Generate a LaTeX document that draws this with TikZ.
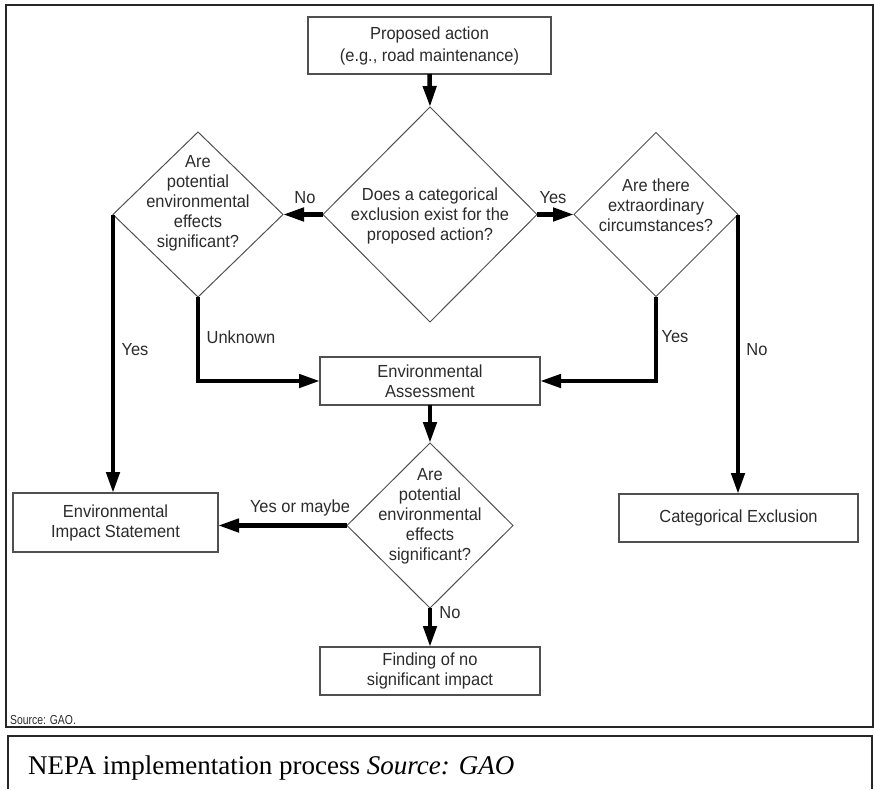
\documentclass[tikz,border=0pt]{standalone}
\usepackage{fontspec}
\setmainfont{Liberation Sans}[FakeStretch=0.94]
\newfontfamily\capfont{Liberation Serif}
\newfontfamily\narrowfont[FakeStretch=0.8]{Liberation Sans}
\usetikzlibrary{shapes.geometric,arrows.meta}
\definecolor{txtgray}{HTML}{2B2B2B}
\definecolor{boxgray}{HTML}{505050}
\begin{document}
\begin{tikzpicture}[x=1pt,y=-1pt,
  box/.style={draw=boxgray,line width=1.2pt,rectangle,inner sep=0pt,outer sep=0pt,
    font=\fontsize{17.5}{20}\selectfont,text=txtgray,align=center},
  dia/.style={draw=boxgray,line width=1pt,diamond,inner sep=0pt,outer sep=0pt},
  txt/.style={font=\fontsize{17.5}{20}\selectfont,text=txtgray,align=center,inner sep=0pt},
  lbl/.style={font=\fontsize{17.5}{20}\selectfont,text=txtgray,inner sep=0pt},
  flow/.style={line width=4.5pt,-{Triangle[length=21pt,width=13pt]}},
]
\useasboundingbox (0,0) rectangle (874,789);
% frames
\draw[line width=1.5pt,black!85] (6,5) rectangle (873,727);
\draw[line width=2pt,black!85] (8,789) -- (8,736) -- (872,736) -- (872,789);
\node[anchor=base west,font=\narrowfont\fontsize{13}{15}\selectfont,text=txtgray,inner sep=0pt] (src) at (10,724) {Source: GAO.};
\node[anchor=base west,font=\capfont\fontsize{27}{30}\selectfont,inner sep=0pt] (cap) at (28,774) {NEPA implementation process \textit{Source: GAO}};

% boxes
\node[box,minimum width=243pt,minimum height=57pt,font=\fontsize{17.5}{22}\selectfont] (prop) at (429.5,45.5) {Proposed action\\(e.g., road maintenance)};
\node[box,minimum width=220pt,minimum height=48pt] (ea) at (430,381) {Environmental\\Assessment};
\node[box,minimum width=205pt,minimum height=59pt] (eis) at (115.5,522.5) {Environmental\\Impact Statement};
\node[box,minimum width=239pt,minimum height=48pt] (ce) at (738.5,518) {Categorical Exclusion};
\node[box,minimum width=220pt,minimum height=48pt] (fonsi) at (430,671) {Finding of no\\significant impact};

% diamonds
\node[dia,minimum width=214pt,minimum height=215pt] (d1) at (430,214.5) {};
\node[txt] (d1t) at (430,216) {Does a categorical\\exclusion exist for the\\proposed action?};
\node[dia,minimum width=170pt,minimum height=165pt] (d2) at (198,214.5) {};
\node[txt] (d2t) at (198,203) {Are\\potential\\environmental\\effects\\significant?};
\node[dia,minimum width=164pt,minimum height=164pt] (d3) at (656,214.5) {};
\node[txt] (d3t) at (656,205) {Are there\\extraordinary\\circumstances?};
\node[dia,minimum width=166pt,minimum height=165pt] (d4) at (430,525.5) {};
\node[txt] (d4t) at (430,516) {Are\\potential\\environmental\\effects\\significant?};

% connectors
\draw[flow] (prop.south) -- (d1.north);
\draw[flow] (d1.west) -- (d2.east);
\draw[flow] (d1.east) -- (d3.west);
\draw[flow] (d2.west) -- (d2.west |- eis.north);
\draw[flow] (d2.south) |- (ea.west);
\draw[flow] (d3.south) |- (ea.east);
\draw[flow] (d3.east) -- (d3.east |- ce.north);
\draw[flow] (ea.south) -- (d4.north);
\draw[flow] (d4.west) -- (d4.west -| eis.east);
\draw[flow] (d4.south) -- (fonsi.north);

% labels
\node[lbl] (lno1) at (305,198) {No};
\node[lbl] (lyes1) at (553,198) {Yes};
\node[lbl] (lyes2) at (135,350) {Yes};
\node[lbl] (lunk) at (241,337) {Unknown};
\node[lbl] (lyes3) at (675,337) {Yes};
\node[lbl] (lno2) at (757,350) {No};
\node[lbl] (lyom) at (300,508) {Yes or maybe};
\node[lbl] (lno3) at (450,613) {No};
\end{tikzpicture}
\end{document}
